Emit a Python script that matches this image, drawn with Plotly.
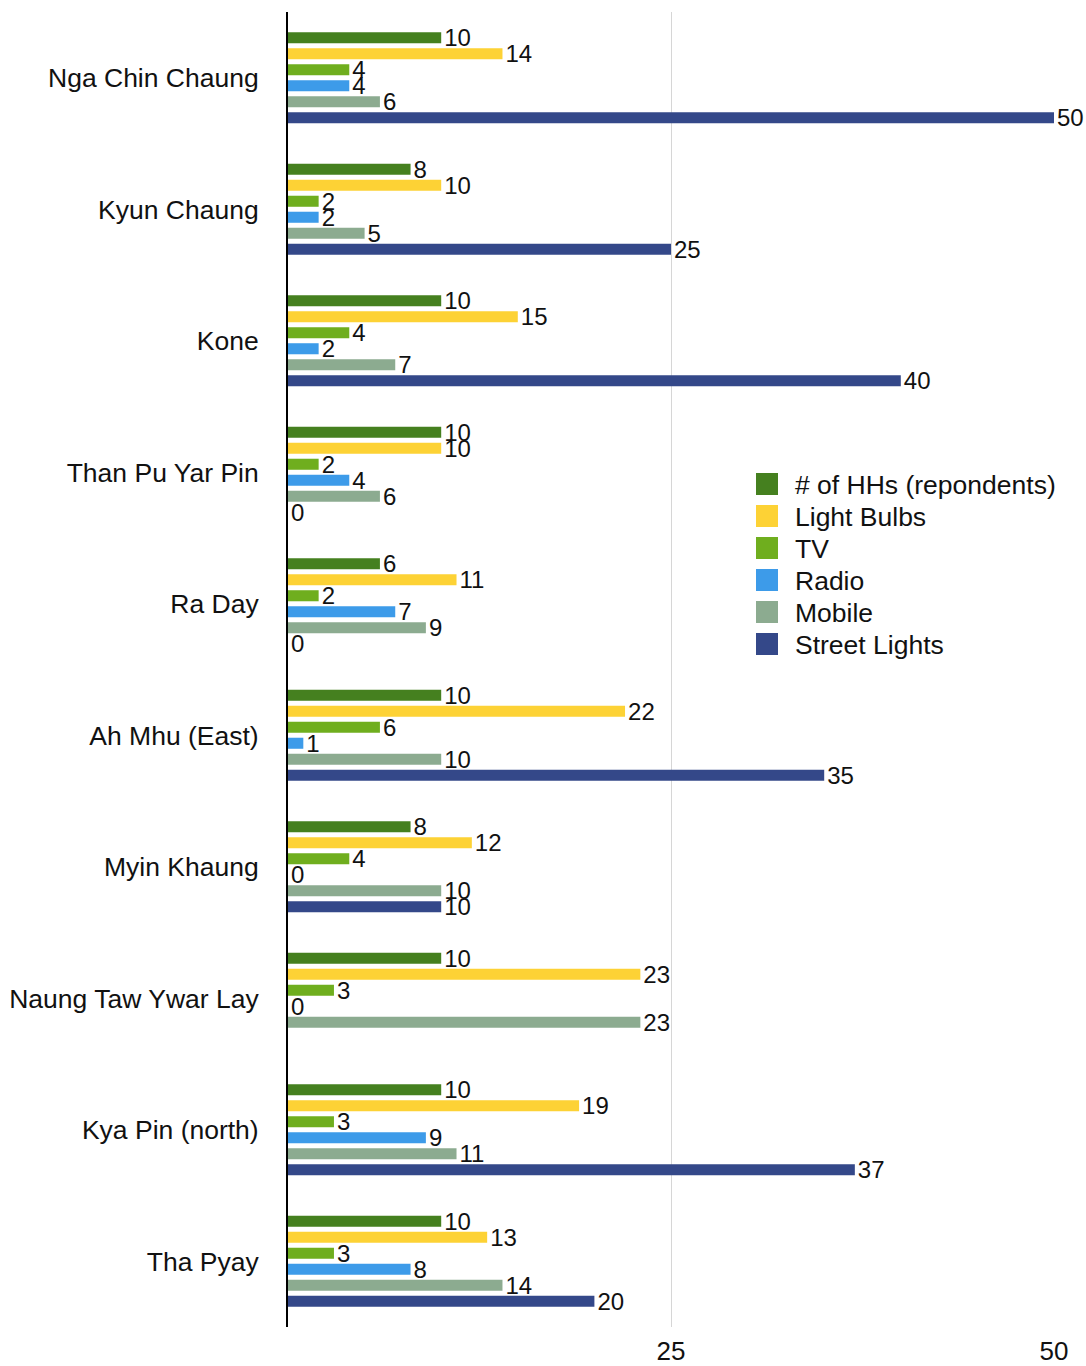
import plotly.graph_objects as go

villages = ["Nga Chin Chaung", "Kyun Chaung", "Kone", "Than Pu Yar Pin", "Ra Day",
            "Ah Mhu (East)", "Myin Khaung", "Naung Taw Ywar Lay", "Kya Pin (north)", "Tha Pyay"]

series_names = ["# of HHs (repondents)", "Light Bulbs", "TV", "Radio", "Mobile", "Street Lights"]

hhs = [10, 8, 10, 10, 6, 10, 8, 10, 10, 10]
light_bulbs = [14, 10, 15, 10, 11, 22, 12, 23, 19, 13]
tv = [4, 2, 4, 2, 2, 6, 4, 3, 3, 3]
radio = [4, 2, 2, 4, 7, 1, 0, 0, 9, 8]
mobile = [6, 5, 7, 6, 9, 10, 10, 23, 11, 14]
street_lights = [50, 25, 40, 0, 0, 35, 10, None, 37, 20]

x_ticks = [25, 50]

values = [hhs, light_bulbs, tv, radio, mobile, street_lights]
colors = ["#45801f", "#fdd235", "#6fae1e", "#3d9be9", "#8cab90", "#344889"]

FONT = "Liberation Sans, Arial, sans-serif"
TXT = "#111111"

W, H = 1086, 1366
ML, MR, MT, MB = 288, 32, 12, 39
PW = W - ML - MR
PH = H - MT - MB


def px_to_paper_x(px):
    return (px - ML) / PW


def px_to_paper_y(py):
    return (H - MB - py) / PH


fig = go.Figure()
for name, vals, col in zip(series_names, values, colors):
    fig.add_trace(go.Bar(
        y=villages, x=vals, name=name, orientation="h",
        marker=dict(color=col, line=dict(width=0)),
        text=[("" if v is None else str(v)) for v in vals],
        textposition="outside", cliponaxis=False, constraintext="none",
        textfont=dict(family=FONT, size=24, color=TXT),
        showlegend=False,
    ))

# legend drawn as swatches + text to match the reference sizing
shapes = []
annotations = []
for i, (name, col) in enumerate(zip(series_names, colors)):
    cy = 484 + 32 * i
    shapes.append(dict(type="rect", xref="paper", yref="paper",
                       x0=px_to_paper_x(756), x1=px_to_paper_x(778),
                       y0=px_to_paper_y(cy + 11), y1=px_to_paper_y(cy - 11),
                       fillcolor=col, line=dict(width=0), layer="above"))
    annotations.append(dict(xref="paper", yref="paper",
                            x=px_to_paper_x(793), y=px_to_paper_y(cy + 1),
                            xanchor="left", yanchor="middle", showarrow=False,
                            text=name, font=dict(family=FONT, size=26.5, color=TXT)))

fig.update_layout(
    width=W, height=H,
    margin=dict(l=ML, r=MR, t=MT, b=MB, autoexpand=False),
    paper_bgcolor="white", plot_bgcolor="white",
    barmode="group", bargap=0.27, bargroupgap=0.31,
    font=dict(family=FONT, size=26.5, color=TXT),
    showlegend=False,
    shapes=shapes, annotations=annotations,
    xaxis=dict(range=[0, 50], tickvals=x_ticks, ticktext=[str(t) for t in x_ticks],
               showgrid=True, gridcolor="#d6d6d6", gridwidth=1,
               zeroline=False, showline=False, ticks="", ticklabelstandoff=6,
               tickfont=dict(family=FONT, size=26, color=TXT)),
    yaxis=dict(autorange="reversed", showline=True, linecolor="#000000", linewidth=2,
               showgrid=False, ticks="", ticklabelstandoff=22,
               tickfont=dict(family=FONT, size=26.5, color=TXT)),
)

fig.write_html("out.html",
               config={"displayModeBar": False},
               post_script="document.body.style.margin='0';document.body.style.overflow='hidden';")
